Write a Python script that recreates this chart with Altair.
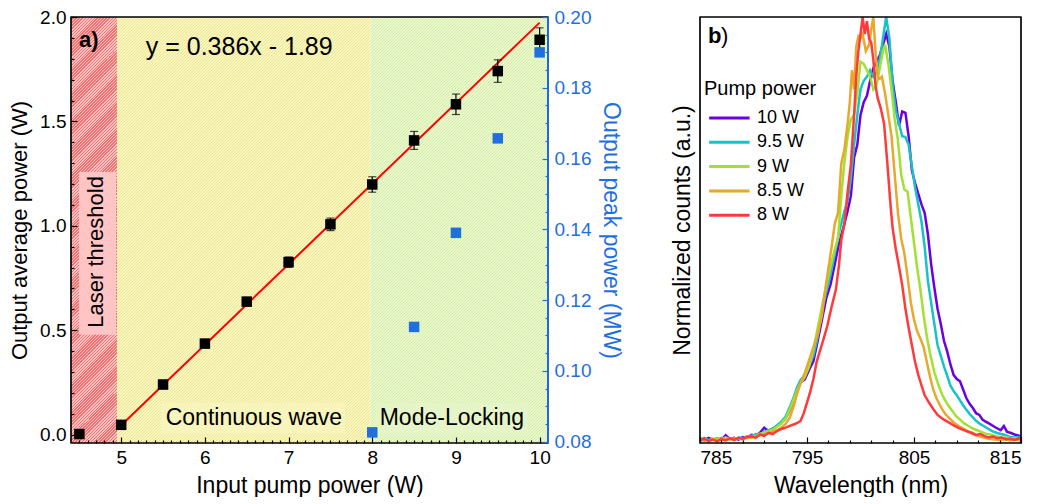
import math
import altair as alt
import pandas as pd

FONT = "Liberation Sans"
BLUE = "#1f6fe0"

# ---------------- panel a data ----------------
pump_power = [4.5, 5.0, 5.5, 6.0, 6.5, 7.0, 7.5, 8.0, 8.5, 9.0, 9.5, 10.0]
avg_power = [0.003, 0.047, 0.240, 0.436, 0.637, 0.826, 1.007, 1.198, 1.409, 1.582, 1.741, 1.891]
avg_err = [0.02, 0.02, 0.02, 0.02, 0.02, 0.025, 0.03, 0.037, 0.043, 0.049, 0.054, 0.057]
ml_pump = [8.0, 8.5, 9.0, 9.5, 10.0]
peak_power = [0.0826, 0.1124, 0.139, 0.1657, 0.190]
fit_x = [5.0, 10.0]
fit_y = [0.045, 1.973]
region_start = [4.4, 4.95, 7.98]
region_end = [4.95, 7.98, 10.1]

# ---------------- panel b data ----------------
series_names = ["10 W", "9.5 W", "9 W", "8.5 W", "8 W"]
series_colors = ["#6c00e0", "#18c2c9", "#a3e034", "#e8a82c", "#ff3a3a"]

wl_10 = [785.0, 785.4, 785.8, 786.2, 786.6, 787.0, 787.4, 787.8, 788.2, 788.6, 789.0, 789.4, 789.8, 790.2, 790.6, 791.0, 791.4, 791.8, 792.2, 792.6, 793.0, 793.4, 793.8, 794.1, 794.4, 794.8, 795.2, 795.6, 796.0, 796.4, 796.8, 797.2, 797.6, 798.0, 798.4, 798.8, 799.1, 799.4, 799.7, 800.0, 800.3, 800.6, 800.9, 801.2, 801.5, 801.8, 802.1, 802.4, 802.7, 803.0, 803.3, 803.6, 803.9, 804.2, 804.5, 804.8, 805.1, 805.4, 805.7, 806.0, 806.3, 806.6, 806.9, 807.2, 807.5, 807.8, 808.1, 808.4, 808.7, 809.0, 809.3, 809.6, 809.9, 810.2, 810.5, 810.8, 811.1, 811.4, 811.7, 812.0, 812.4, 812.8, 813.1, 813.4, 813.7, 814.0, 814.4, 814.8, 815.0]
val_10 = [0.010, 0.006, 0.012, 0.008, 0.011, 0.007, 0.018, 0.009, 0.012, 0.008, 0.014, 0.012, 0.019, 0.017, 0.024, 0.036, 0.028, 0.034, 0.040, 0.047, 0.058, 0.078, 0.105, 0.130, 0.142, 0.150, 0.172, 0.192, 0.240, 0.290, 0.340, 0.372, 0.420, 0.470, 0.505, 0.545, 0.580, 0.670, 0.700, 0.770, 0.800, 0.815, 0.850, 0.880, 0.895, 0.910, 0.935, 0.960, 0.930, 0.850, 0.800, 0.745, 0.778, 0.775, 0.720, 0.640, 0.610, 0.585, 0.560, 0.540, 0.490, 0.420, 0.365, 0.315, 0.280, 0.240, 0.215, 0.185, 0.160, 0.150, 0.145, 0.125, 0.105, 0.092, 0.082, 0.070, 0.066, 0.055, 0.050, 0.046, 0.040, 0.034, 0.030, 0.040, 0.026, 0.024, 0.020, 0.017, 0.016]

wl_95 = [785.0, 785.4, 785.8, 786.2, 786.6, 787.0, 787.4, 787.8, 788.2, 788.6, 789.0, 789.4, 789.8, 790.2, 790.6, 791.0, 791.4, 791.8, 792.2, 792.6, 793.0, 793.4, 793.8, 794.1, 794.4, 794.8, 795.2, 795.6, 796.0, 796.4, 796.8, 797.2, 797.6, 798.0, 798.4, 798.8, 799.1, 799.4, 799.7, 800.0, 800.3, 800.6, 800.9, 801.2, 801.5, 801.8, 802.1, 802.4, 802.7, 803.0, 803.3, 803.6, 803.9, 804.2, 804.5, 804.8, 805.1, 805.4, 805.7, 806.0, 806.3, 806.6, 806.9, 807.2, 807.5, 807.8, 808.1, 808.4, 808.7, 809.0, 809.3, 809.6, 809.9, 810.2, 810.5, 810.8, 811.1, 811.5, 811.9, 812.3, 812.7, 813.1, 813.5, 813.9, 814.3, 814.7, 815.0]
val_95 = [0.008, 0.012, 0.007, 0.010, 0.006, 0.012, 0.009, 0.011, 0.008, 0.013, 0.011, 0.016, 0.015, 0.021, 0.019, 0.026, 0.030, 0.033, 0.042, 0.050, 0.062, 0.085, 0.110, 0.132, 0.148, 0.160, 0.182, 0.205, 0.250, 0.310, 0.355, 0.395, 0.445, 0.495, 0.535, 0.570, 0.620, 0.700, 0.770, 0.830, 0.850, 0.860, 0.875, 0.860, 0.870, 0.900, 0.950, 1.000, 0.950, 0.840, 0.780, 0.750, 0.720, 0.718, 0.700, 0.650, 0.600, 0.560, 0.520, 0.460, 0.380, 0.330, 0.280, 0.230, 0.205, 0.180, 0.158, 0.135, 0.122, 0.112, 0.100, 0.088, 0.078, 0.068, 0.060, 0.052, 0.046, 0.040, 0.034, 0.028, 0.024, 0.021, 0.019, 0.015, 0.013, 0.014, 0.012]

wl_9 = [785.0, 785.4, 785.8, 786.2, 786.6, 787.0, 787.4, 787.8, 788.2, 788.6, 789.0, 789.4, 789.8, 790.2, 790.6, 791.0, 791.4, 791.8, 792.2, 792.6, 793.0, 793.4, 793.8, 794.1, 794.4, 794.8, 795.2, 795.6, 796.0, 796.4, 796.8, 797.2, 797.6, 797.9, 798.2, 798.5, 798.8, 799.1, 799.4, 799.7, 800.0, 800.3, 800.6, 800.9, 801.2, 801.5, 801.8, 802.1, 802.3, 802.6, 802.9, 803.2, 803.5, 803.8, 804.1, 804.4, 804.7, 805.0, 805.3, 805.6, 805.9, 806.2, 806.5, 806.9, 807.3, 807.7, 808.1, 808.5, 808.9, 809.3, 809.7, 810.1, 810.5, 810.9, 811.3, 811.7, 812.1, 812.5, 812.9, 813.3, 813.7, 814.1, 814.5, 815.0]
val_9 = [0.006, 0.009, 0.005, 0.008, 0.011, 0.007, 0.013, 0.008, 0.010, 0.012, 0.009, 0.014, 0.017, 0.015, 0.022, 0.024, 0.028, 0.031, 0.038, 0.046, 0.058, 0.080, 0.105, 0.125, 0.140, 0.155, 0.180, 0.220, 0.270, 0.320, 0.370, 0.415, 0.455, 0.480, 0.580, 0.660, 0.720, 0.760, 0.770, 0.820, 0.895, 0.890, 0.875, 0.860, 0.830, 0.840, 0.880, 0.920, 0.935, 0.890, 0.830, 0.760, 0.710, 0.630, 0.595, 0.590, 0.530, 0.470, 0.410, 0.360, 0.300, 0.250, 0.210, 0.166, 0.135, 0.110, 0.092, 0.078, 0.064, 0.055, 0.046, 0.040, 0.034, 0.030, 0.026, 0.022, 0.020, 0.017, 0.015, 0.012, 0.013, 0.010, 0.011, 0.009]

wl_85 = [785.0, 785.4, 785.8, 786.2, 786.6, 787.0, 787.4, 787.8, 788.2, 788.6, 789.0, 789.4, 789.8, 790.2, 790.6, 791.0, 791.4, 791.8, 792.2, 792.6, 793.0, 793.4, 793.8, 794.1, 794.4, 794.8, 795.2, 795.6, 796.0, 796.4, 796.7, 797.0, 797.3, 797.6, 797.9, 798.2, 798.5, 798.8, 799.0, 799.2, 799.4, 799.6, 799.8, 800.0, 800.2, 800.5, 800.8, 801.0, 801.2, 801.4, 801.6, 801.8, 802.0, 802.3, 802.6, 802.9, 803.2, 803.5, 803.8, 804.1, 804.4, 804.7, 805.0, 805.3, 805.6, 805.9, 806.2, 806.5, 806.8, 807.1, 807.4, 807.7, 808.0, 808.4, 808.8, 809.2, 809.6, 810.0, 810.4, 810.8, 811.2, 811.6, 812.0, 812.5, 813.0, 813.5, 814.0, 814.5, 815.0]
val_85 = [0.005, 0.008, 0.004, 0.009, 0.006, 0.010, 0.007, 0.012, 0.009, 0.011, 0.008, 0.013, 0.012, 0.016, 0.018, 0.020, 0.022, 0.027, 0.030, 0.036, 0.045, 0.060, 0.090, 0.118, 0.140, 0.165, 0.195, 0.225, 0.255, 0.300, 0.360, 0.410, 0.460, 0.515, 0.540, 0.655, 0.690, 0.750, 0.800, 0.875, 0.830, 0.930, 0.955, 0.950, 0.960, 0.920, 0.935, 0.970, 1.000, 0.920, 0.860, 0.855, 0.860, 0.820, 0.770, 0.720, 0.630, 0.540, 0.480, 0.445, 0.390, 0.330, 0.290, 0.262, 0.245, 0.225, 0.190, 0.155, 0.125, 0.105, 0.090, 0.076, 0.066, 0.056, 0.046, 0.040, 0.034, 0.028, 0.022, 0.018, 0.015, 0.012, 0.010, 0.008, 0.007, 0.009, 0.006, 0.008, 0.005]

wl_8 = [785.0, 785.4, 785.8, 786.2, 786.6, 787.0, 787.4, 787.8, 788.2, 788.6, 789.0, 789.4, 789.8, 790.2, 790.6, 791.0, 791.4, 791.8, 792.2, 792.6, 793.0, 793.4, 793.8, 794.1, 794.4, 794.7, 795.0, 795.3, 795.6, 795.9, 796.2, 796.5, 796.9, 797.3, 797.7, 798.0, 798.2, 798.5, 798.8, 799.1, 799.4, 799.6, 799.8, 800.0, 800.2, 800.4, 800.6, 800.8, 801.0, 801.2, 801.4, 801.6, 801.9, 802.2, 802.5, 802.8, 803.0, 803.3, 803.6, 803.9, 804.2, 804.5, 804.8, 805.1, 805.4, 805.7, 806.0, 806.4, 806.8, 807.2, 807.6, 808.0, 808.4, 808.8, 809.2, 809.6, 810.0, 810.4, 810.8, 811.2, 811.6, 812.0, 812.4, 812.8, 813.2, 813.6, 814.0, 814.4, 814.8, 815.0]
val_8 = [0.006, 0.010, 0.005, 0.008, 0.004, 0.009, 0.006, 0.011, 0.007, 0.012, 0.010, 0.014, 0.016, 0.012, 0.020, 0.017, 0.024, 0.021, 0.028, 0.033, 0.036, 0.040, 0.044, 0.047, 0.052, 0.070, 0.095, 0.120, 0.150, 0.190, 0.215, 0.240, 0.275, 0.320, 0.360, 0.420, 0.476, 0.515, 0.590, 0.654, 0.770, 0.860, 0.920, 0.960, 1.000, 0.960, 0.990, 0.950, 0.940, 0.900, 0.840, 0.810, 0.785, 0.750, 0.660, 0.560, 0.505, 0.455, 0.414, 0.370, 0.315, 0.270, 0.230, 0.190, 0.160, 0.135, 0.112, 0.095, 0.080, 0.066, 0.058, 0.052, 0.046, 0.040, 0.035, 0.031, 0.027, 0.024, 0.019, 0.021, 0.016, 0.013, 0.015, 0.011, 0.013, 0.009, 0.010, 0.007, 0.011, 0.009]

# ---------------- layout constants ----------------
WA, HA = 477, 426
WB, HB = 321, 426
XA = [4.4, 10.1]
YL = [-0.04, 2.0]
YR = [0.0796, 0.20]
XB = [785, 815]
YB = [0, 1.0]

XS = alt.Scale(domain=XA, nice=False, zero=False)
YLS = alt.Scale(domain=YL, nice=False, zero=False)
YRS = alt.Scale(domain=YR, nice=False, zero=False)
XBS = alt.Scale(domain=XB, nice=False, zero=False)
YBS = alt.Scale(domain=YB, nice=False, zero=False)


def ax(**kw):
    base = dict(zindex=1, grid=False, domain=False, labelFont=FONT, titleFont=FONT,
                tickColor="black", labelColor="black", titleColor="black",
                titleFontWeight="normal", tickWidth=1.2, labelFontSize=19, titleFontSize=23,
                titleLimit=2000)
    base.update(kw)
    return alt.Axis(**base)


def hatch(W, H, c_stripe, c_base, hper=3.0, duty=0.34):
    # fine 45-degree hatching as a striped linear gradient (style only)
    L = (W + H) / math.sqrt(2)
    p = hper / math.sqrt(2)
    n = int(math.ceil(L / p))
    s = (W + H) / (W * W + H * H)
    k = s * n * p / L
    stops = []
    for i in range(n):
        a = round(i / n, 6)
        b = round((i + duty) / n, 6)
        c = round((i + 1) / n, 6)
        stops += [{"offset": a, "color": c_stripe}, {"offset": b, "color": c_stripe},
                  {"offset": b, "color": c_base}, {"offset": c, "color": c_base}]
    return {"gradient": "linear", "x1": 0, "y1": 0, "x2": k * W, "y2": k * H, "stops": stops}


pxu = WA / (XA[1] - XA[0])
hatch_cols = [("#f47070", "#fdc2c2"), ("#eee688", "#f9f6c6"), ("#d4eda2", "#e9f8cf")]

layers_a = []
for i in range(3):
    dfr = pd.DataFrame({"x0": [region_start[i]], "x1": [region_end[i]]})
    Wr = (region_end[i] - region_start[i]) * pxu
    g = hatch(Wr, HA, *hatch_cols[i])
    layers_a.append(
        alt.Chart(dfr).mark_rect(fill=g).encode(
            x=alt.X("x0:Q", scale=XS, axis=None), x2="x1:Q"))

# annotation boxes behind labels
boxes = pd.DataFrame({
    "x0": [4.496, 5.475, 8.044], "x1": [4.938, 7.674, 9.86],
    "y0": [0.478, 0.005, 0.005], "y1": [1.258, 0.151, 0.151],
    "c": ["#ffc4c4", "#f7f4bc", "#e5f5c8"]})
layers_a.append(alt.Chart(boxes).mark_rect().encode(
    x=alt.X("x0:Q", scale=XS, axis=None), x2="x1:Q",
    y=alt.Y("y0:Q", scale=YLS, axis=None), y2="y1:Q",
    color=alt.Color("c:N", scale=None)))

texts = pd.DataFrame({"x": [6.41, 6.586, 8.952], "y": [1.858, 0.080, 0.080],
                      "t": ["y = 0.386x - 1.89", "Continuous wave", "Mode-Locking"],
                      "s": [25, 23, 23]})
layers_a.append(alt.Chart(texts).mark_text(font=FONT, color="black", align="center", baseline="middle").encode(
    x=alt.X("x:Q", scale=XS, axis=None), y=alt.Y("y:Q", scale=YLS, axis=None),
    text="t:N", size=alt.Size("s:Q", scale=None)))
layers_a.append(alt.Chart(pd.DataFrame({"x": [4.70], "y": [0.875], "t": ["Laser threshold"]})).mark_text(
    font=FONT, fontSize=22, angle=270, color="black", align="center", baseline="middle").encode(
    x=alt.X("x:Q", scale=XS, axis=None), y=alt.Y("y:Q", scale=YLS, axis=None), text="t:N"))
layers_a.append(alt.Chart(pd.DataFrame({"x": [4.495], "y": [1.89], "t": ["a)"]})).mark_text(
    font=FONT, fontSize=22, fontWeight="bold", color="black", align="left", baseline="middle").encode(
    x=alt.X("x:Q", scale=XS, axis=None), y=alt.Y("y:Q", scale=YLS, axis=None), text="t:N"))

# fit line
layers_a.append(alt.Chart(pd.DataFrame({"x": fit_x, "y": fit_y})).mark_line(color="#ff0000", strokeWidth=2).encode(
    x=alt.X("x:Q", scale=XS, axis=None), y=alt.Y("y:Q", scale=YLS, axis=None)))

# error bars
dfa = pd.DataFrame({"x": pump_power, "y": avg_power, "e": avg_err})
dfa["lo"] = dfa["y"] - dfa["e"]
dfa["hi"] = dfa["y"] + dfa["e"]
layers_a.append(alt.Chart(dfa).mark_rule(color="black", strokeWidth=1.2).encode(
    x=alt.X("x:Q", scale=XS, axis=None), y=alt.Y("lo:Q", scale=YLS, axis=None), y2="hi:Q"))
for f in ["lo", "hi"]:
    layers_a.append(alt.Chart(dfa).mark_tick(color="black", orient="horizontal", size=8, thickness=1.2).encode(
        x=alt.X("x:Q", scale=XS, axis=None), y=alt.Y(f + ":Q", scale=YLS, axis=None)))

# black squares (carry major x and left y axes)
layers_a.append(alt.Chart(dfa).mark_square(color="black", size=110, opacity=1).encode(
    x=alt.X("x:Q", scale=XS, axis=ax(orient="bottom", values=[5, 6, 7, 8, 9, 10], format="d",
                                     tickSize=6, offset=-6, labelPadding=5,
                                     title="Input pump power (W)", titlePadding=7)),
    y=alt.Y("y:Q", scale=YLS, axis=ax(orient="left", values=[0, 0.5, 1.0, 1.5, 2.0], format=".1f",
                                      tickSize=6, offset=-6, labelPadding=5,
                                      title="Output average power (W)", titleFontSize=22,
                                      titlePadding=8))))

# blue squares (right axis)
dfb = pd.DataFrame({"x": ml_pump, "y": peak_power})
layers_a.append(alt.Chart(dfb).mark_square(color=BLUE, size=110, opacity=1).encode(
    x=alt.X("x:Q", scale=XS, axis=None),
    y=alt.Y("y:Q", scale=YRS, axis=ax(orient="right", values=[0.08, 0.10, 0.12, 0.14, 0.16, 0.18, 0.20],
                                      format=".2f", tickSize=6, offset=-6, labelPadding=6,
                                      tickColor=BLUE, labelColor=BLUE, titleColor=BLUE,
                                      title="Output peak power (MW)", titlePadding=8))))

# minor-tick axis carriers
carrier = pd.DataFrame({"x": XA, "yl": YL, "yr": YR})
minor_x = [round(4.5 + 0.1 * i, 1) for i in range(56) if abs((4.5 + 0.1 * i) - round(4.5 + 0.1 * i)) > 1e-6]
minor_yl = [round(0.1 * i, 1) for i in range(1, 20) if i % 5 != 0]
minor_yr = [round(0.08 + 0.005 * i, 3) for i in range(1, 24) if i % 4 != 0]
layers_a.append(alt.Chart(carrier).mark_point(opacity=0).encode(
    x=alt.X("x:Q", scale=XS, axis=ax(orient="bottom", values=minor_x, tickSize=3, offset=-3,
                                     labels=False, title=None)),
    y=alt.Y("yl:Q", scale=YLS, axis=ax(orient="left", values=minor_yl, tickSize=3, offset=-3,
                                       labels=False, title=None))))
layers_a.append(alt.Chart(carrier).mark_point(opacity=0).encode(
    x=alt.X("x:Q", scale=XS, axis=None),
    y=alt.Y("yr:Q", scale=YRS, axis=ax(orient="right", values=minor_yr, tickSize=3, offset=-3,
                                       labels=False, title=None, tickColor=BLUE))))

# frame and blue right spine
layers_a.append(alt.Chart(carrier).mark_rect(fill="transparent", stroke="black", strokeWidth=1.2).encode(
    x=alt.value(0), x2=alt.value(WA), y=alt.value(0), y2=alt.value(HA)))
layers_a.append(alt.Chart(carrier).mark_rule(color=BLUE, strokeWidth=1.5).encode(
    x=alt.value(WA), y=alt.value(0), y2=alt.value(HA)))

panel_a = alt.layer(*layers_a).resolve_scale(x="independent", y="independent").resolve_axis(
    x="independent", y="independent").properties(width=WA, height=HA)

# ---------------- panel b ----------------
rows = []
for name, wl, vals in [("10 W", wl_10, val_10), ("9.5 W", wl_95, val_95), ("9 W", wl_9, val_9),
                       ("8.5 W", wl_85, val_85), ("8 W", wl_8, val_8)]:
    for w, v in zip(wl, vals):
        rows.append({"series": name, "wl": w, "v": v})
dfs = pd.DataFrame(rows)

lines = alt.Chart(dfs).mark_line(strokeWidth=2.5, clip=True).encode(
    x=alt.X("wl:Q", scale=XBS, axis=ax(orient="bottom", values=[785, 795, 805, 815], format="d",
                                       tickSize=6, offset=-6, labelPadding=5,
                                       title="Wavelength (nm)", titlePadding=7)),
    y=alt.Y("v:Q", scale=YBS, axis=ax(orient="left", ticks=False, labels=False,
                                      title="Normalized counts (a.u.)", titlePadding=6)),
    color=alt.Color("series:N", sort=series_names,
                    scale=alt.Scale(domain=series_names, range=series_colors),
                    legend=alt.Legend(orient="none", legendX=4, legendY=62, title="Pump power",
                                      titleFont=FONT, titleFontSize=20, titleFontWeight="normal",
                                      titleColor="black", labelFont=FONT, labelFontSize=18,
                                      labelColor="black", symbolType="M-0.65,0H3.2", symbolSize=441,
                                      symbolStrokeWidth=3, labelOffset=29, rowPadding=3.3,
                                      titlePadding=7, padding=0)),
    detail="series:N")

carrier_b = pd.DataFrame({"x": XB, "y": YB})
minor_b = [787, 789, 791, 793, 797, 799, 801, 803, 807, 809, 811, 813]
minor_layer = alt.Chart(carrier_b).mark_point(opacity=0).encode(
    x=alt.X("x:Q", scale=XBS, axis=ax(orient="bottom", values=minor_b, tickSize=3, offset=-3,
                                      labels=False, title=None)),
    y=alt.Y("y:Q", scale=YBS, axis=None))
b_bold = alt.Chart(pd.DataFrame({"x": [785.75], "y": [0.956], "t": ["b"]})).mark_text(
    font=FONT, fontSize=22, fontWeight="bold", color="black", align="left", baseline="middle").encode(
    x=alt.X("x:Q", scale=XBS, axis=None), y=alt.Y("y:Q", scale=YBS, axis=None), text="t:N")
b_par = alt.Chart(pd.DataFrame({"x": [786.97], "y": [0.956], "t": [")"]})).mark_text(
    font=FONT, fontSize=22, color="black", align="left", baseline="middle").encode(
    x=alt.X("x:Q", scale=XBS, axis=None), y=alt.Y("y:Q", scale=YBS, axis=None), text="t:N")
frame_b = alt.Chart(carrier_b).mark_rect(fill="transparent", stroke="black", strokeWidth=1.2).encode(
    x=alt.value(0), x2=alt.value(WB), y=alt.value(0), y2=alt.value(HB))

panel_b = alt.layer(lines, minor_layer, b_bold, b_par, frame_b).resolve_scale(
    x="independent", y="independent").resolve_axis(x="independent", y="independent").properties(
    width=WB, height=HB)

chart = alt.hconcat(panel_a, panel_b, spacing=49).resolve_scale(color="independent").resolve_legend(
    color="independent").properties(
    padding={"left": 0, "top": 0, "right": 2, "bottom": 0}
).configure(font=FONT).configure_view(strokeWidth=0)

chart.save("out.html", embed_options={"renderer": "svg", "actions": False})
